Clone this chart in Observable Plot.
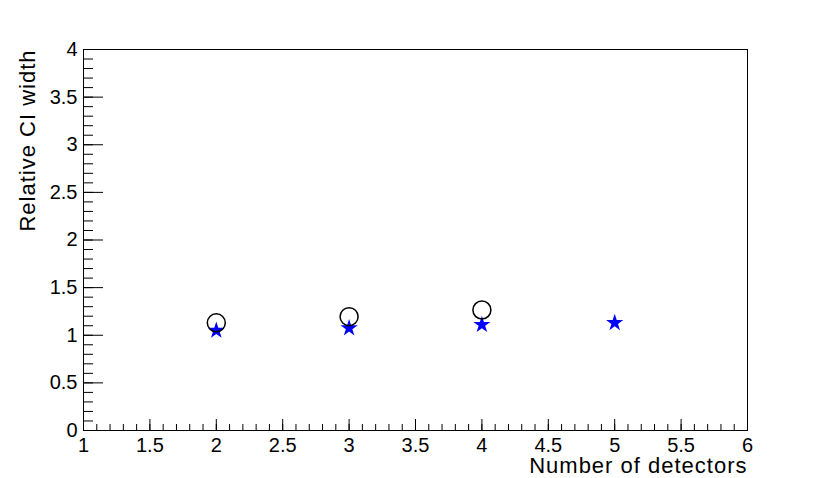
<!DOCTYPE html>
<html>
<head>
<meta charset="utf-8">
<script src="https://cdn.jsdelivr.net/npm/d3@7"></script>
<script src="https://cdn.jsdelivr.net/npm/@observablehq/plot@0.6"></script>
<style>
  html, body { margin: 0; padding: 0; background: #fff; }
  #chart svg { display: block; }
</style>
</head>
<body>
<div id="chart"></div>
<script>
// ---- data ----
const circleX = [2, 3, 4];
const circleY = [1.13, 1.195, 1.265];
const starX = [2, 3, 4, 5];
const starY = [1.05, 1.075, 1.11, 1.13];
const xTickLabels = [1, 1.5, 2, 2.5, 3, 3.5, 4, 4.5, 5, 5.5, 6];
const yTickLabels = [0, 0.5, 1, 1.5, 2, 2.5, 3, 3.5, 4];
const xTitle = "Number of detectors";
const yTitle = "Relative CI width";

const circles = circleX.map((x, i) => ({x, y: circleY[i]}));
const stars = starX.map((x, i) => ({x, y: starY[i]}));
const xMinor = d3.range(10, 61).map(d => d / 10);
const yMinor = d3.range(0, 41).map(d => d / 10);

const W = 830, H = 478;
const mL = 83, mR = 83, mT = 49, mB = 48;
const plotW = W - mL - mR, plotH = H - mT - mB;
const font = "'Liberation Sans', Arial, Helvetica, sans-serif";

const chart = Plot.plot({
  width: W,
  height: H,
  marginLeft: mL,
  marginRight: mR,
  marginTop: mT,
  marginBottom: mB,
  style: {fontFamily: font, background: "white", color: "black"},
  x: {domain: [1, 6]},
  y: {domain: [0, 4]},
  marks: [
    // inward minor/major ticks
    Plot.ruleX(xMinor, {x: d => d, insetTop: plotH - 6, stroke: "black", strokeWidth: 1}),
    Plot.ruleX(xTickLabels, {x: d => d, insetTop: plotH - 11, stroke: "black", strokeWidth: 1}),
    Plot.ruleY(yMinor, {y: d => d, insetRight: plotW - 10, stroke: "black", strokeWidth: 1}),
    Plot.ruleY(yTickLabels, {y: d => d, insetRight: plotW - 20, stroke: "black", strokeWidth: 1}),
    Plot.frame({stroke: "black", strokeWidth: 1}),
    Plot.axisX({ticks: xTickLabels, tickSize: 0, tickPadding: 7, tickFormat: d => String(d), label: null}),
    Plot.axisY({ticks: yTickLabels, tickSize: 0, tickPadding: 6, tickFormat: d => String(d), label: null}),
    // data
    Plot.dot(stars, {x: "x", y: "y", symbol: "star", r: 5.4, fill: "#0000ff", stroke: "none"}),
    Plot.dot(circles, {x: "x", y: "y", r: 9, stroke: "black", strokeWidth: 1.5, fill: "none"}),
    // titles
    Plot.text([xTitle], {x: 6, y: 0, text: d => d, textAnchor: "end", lineAnchor: "top", dy: 27, fontSize: 22, fill: "black"}),
    Plot.text([yTitle], {x: 1, y: 4, text: d => d, rotate: -90, textAnchor: "end", lineAnchor: "bottom", dx: -49, fontSize: 22, fill: "black"})
  ]
});

const sel = d3.select(chart);
sel.selectAll("g[aria-label*='tick label']").style("font-size", "20px");
sel.selectAll("g[aria-label*='tick label'] text").style("font-size", "20px");
sel.selectAll("text").filter(function() {
  const t = this.textContent;
  return t === xTitle || t === yTitle;
}).style("letter-spacing", "1px");
document.getElementById("chart").appendChild(chart);
</script>
</body>
</html>
